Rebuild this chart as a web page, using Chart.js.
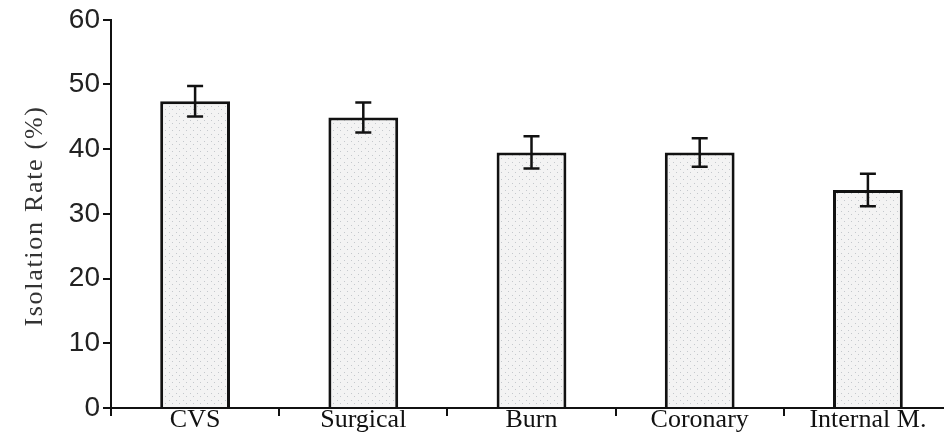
<!DOCTYPE html>
<html>
<head>
<meta charset="utf-8">
<script src="https://cdn.jsdelivr.net/npm/chart.js@4"></script>
<style>
  html, body { margin: 0; padding: 0; background: #fff; overflow: hidden; }
  #wrap { width: 960px; height: 434px; }
</style>
</head>
<body>
<div id="wrap"><canvas id="chart"></canvas></div>
<script>
// data
var wards = ['CVS', 'Surgical', 'Burn', 'Coronary', 'Internal M.'];
var isolationRate = [47.4, 44.9, 39.5, 39.5, 33.7];
var errorSize = [2.35, 2.3, 2.5, 2.2, 2.5];
var yTitle = 'Isolation Rate (%)';

// dotted grey fill like the original bars
function dotPattern() {
    var c = document.createElement('canvas');
    c.width = 7;
    c.height = 7;
    var g = c.getContext('2d');
    g.fillStyle = '#f3f3f3';
    g.fillRect(0, 0, 7, 7);
    g.fillStyle = '#c4c8cc';
    g.fillRect(1, 1, 1, 1);
    g.fillRect(4, 4, 1, 1);
    return g.createPattern(c, 'repeat');
}

// error bars, drawn through the y scale
var errorBars = {
    id: 'errorBars',
    afterDatasetsDraw: function (chart) {
        var ctx = chart.ctx;
        var y = chart.scales.y;
        var meta = chart.getDatasetMeta(0);
        ctx.save();
        ctx.strokeStyle = '#111';
        ctx.lineWidth = 2.5;
        meta.data.forEach(function (bar, i) {
            var top = y.getPixelForValue(isolationRate[i] + errorSize[i]);
            var bottom = y.getPixelForValue(isolationRate[i] - errorSize[i]);
            var x = bar.x;
            ctx.beginPath();
            ctx.moveTo(x, top);
            ctx.lineTo(x, bottom);
            ctx.moveTo(x - 8, top);
            ctx.lineTo(x + 8, top);
            ctx.moveTo(x - 8, bottom);
            ctx.lineTo(x + 8, bottom);
            ctx.stroke();
        });
        ctx.restore();
    }
};

// y title with the loose letter spacing of the original
var yTitlePlugin = {
    id: 'yTitle',
    afterDraw: function (chart) {
        var ctx = chart.ctx;
        ctx.save();
        ctx.translate(42, 216);
        ctx.rotate(-Math.PI / 2);
        ctx.font = '26px "Liberation Serif", "Times New Roman", serif';
        ctx.fillStyle = '#333';
        ctx.letterSpacing = '1.7px';
        ctx.textAlign = 'center';
        ctx.textBaseline = 'alphabetic';
        ctx.fillText(yTitle, 0, 0);
        ctx.restore();
    }
};

new Chart(document.getElementById('chart'), {
    type: 'bar',
    data: {
        labels: wards,
        datasets: [{
            data: isolationRate,
            backgroundColor: dotPattern(),
            borderColor: '#111',
            borderWidth: 3,
            categoryPercentage: 1,
            barPercentage: 0.415
        }]
    },
    options: {
        responsive: true,
        maintainAspectRatio: false,
        animation: false,
        events: [],
        layout: { padding: { top: 19, right: 8, left: 0, bottom: 0 } },
        plugins: {
            legend: { display: false },
            tooltip: { enabled: false }
        },
        scales: {
            x: {
                offset: true,
                grid: {
                    offset: true,
                    drawOnChartArea: false,
                    drawTicks: true,
                    tickLength: 8,
                    color: '#111',
                    lineWidth: 2
                },
                border: { color: '#111', width: 2 },
                ticks: {
                    color: '#111',
                    padding: -11,
                    font: { family: '"Liberation Serif", "Times New Roman", serif', size: 26 }
                },
                afterFit: function (scale) { scale.height = 26; }
            },
            y: {
                min: 0,
                max: 60,
                ticks: {
                    stepSize: 10,
                    color: '#222',
                    padding: 3,
                    font: { family: '"Liberation Sans", Arial, sans-serif', size: 28 }
                },
                grid: {
                    drawOnChartArea: false,
                    drawTicks: true,
                    tickLength: 8,
                    color: '#111',
                    lineWidth: 2
                },
                border: { color: '#111', width: 2 },
                afterFit: function (scale) { scale.width = 111; }
            }
        }
    },
    plugins: [errorBars, yTitlePlugin]
});
</script>
</body>
</html>
